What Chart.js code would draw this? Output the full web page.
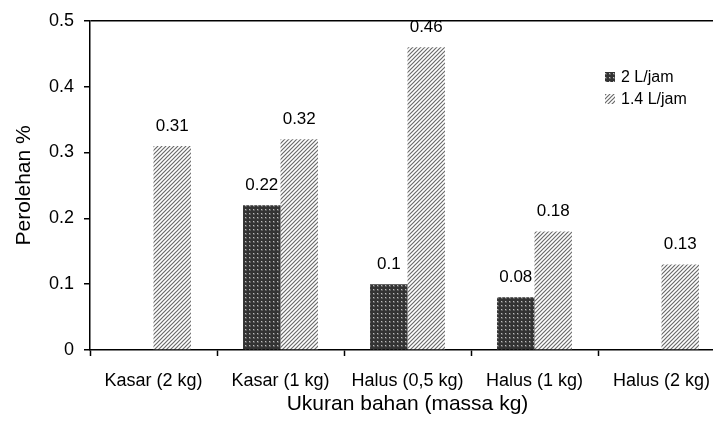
<!DOCTYPE html>
<html>
<head>
<meta charset="utf-8">
<script src="https://cdn.jsdelivr.net/npm/chart.js@4/dist/chart.umd.min.js"></script>
<style>
    html, body { margin: 0; padding: 0; overflow: hidden; background: #fff; }
    #wrap { width: 713px; height: 427px; overflow: hidden; }
</style>
</head>
<body>
<div id="wrap"><canvas id="chart-perolehan" width="735" height="427"></canvas></div>
<script>
const categories = ['Kasar (2 kg)', 'Kasar (1 kg)', 'Halus (0,5 kg)', 'Halus (1 kg)', 'Halus (2 kg)'];
const seriesNames = ['2 L/jam', '1.4 L/jam'];
const values2L = [null, 0.22, 0.10, 0.08, null];
const values14L = [0.31, 0.32, 0.46, 0.18, 0.13];
const yTicks = [0, 0.1, 0.2, 0.3, 0.4, 0.5];

// pola titik untuk seri gelap
function dotPattern() {
    const c = document.createElement('canvas');
    c.width = 4; c.height = 4;
    const g = c.getContext('2d');
    g.fillStyle = '#333333';
    g.fillRect(0, 0, 4, 4);
    g.fillStyle = '#5c5c5c';
    g.fillRect(1, 1, 2, 2);
    g.fillStyle = '#bdbdbd';
    g.fillRect(1, 1, 1, 1);
    return g.createPattern(c, 'repeat');
}

// pola garis miring
function hatchPattern() {
    const c = document.createElement('canvas');
    c.width = 4; c.height = 4;
    const g = c.getContext('2d');
    g.fillStyle = '#ffffff';
    g.fillRect(0, 0, 4, 4);
    g.strokeStyle = '#6a6a6a';
    g.lineWidth = 1.2;
    g.beginPath();
    g.moveTo(-1, 5); g.lineTo(5, -1);
    g.moveTo(-1, 1); g.lineTo(1, -1);
    g.moveTo(3, 5); g.lineTo(5, 3);
    g.stroke();
    return g.createPattern(c, 'repeat');
}

const valueLabels = {
    id: 'valueLabels',
    afterDatasetsDraw(chart) {
        const ctx = chart.ctx;
        ctx.save();
        ctx.font = '17px "Liberation Sans", Arial, sans-serif';
        ctx.fillStyle = '#000';
        ctx.textAlign = 'center';
        ctx.textBaseline = 'alphabetic';
        chart.data.datasets.forEach(function (ds, i) {
            chart.getDatasetMeta(i).data.forEach(function (bar, j) {
                const v = ds.data[j];
                if (v === null) return;
                ctx.fillText(String(v), bar.x, bar.y - 15);
            });
        });
        ctx.restore();
    }
};

const boxLegend = {
    id: 'boxLegend',
    afterDraw(chart) {
        const ctx = chart.ctx;
        ctx.save();
        ctx.font = '16px "Liberation Sans", Arial, sans-serif';
        ctx.textBaseline = 'middle';
        chart.data.datasets.forEach(function (ds, i) {
            const y = 77 + i * 22;
            ctx.fillStyle = ds.backgroundColor;
            ctx.fillRect(605, y - 5, 10, 10);
            ctx.fillStyle = '#000';
            ctx.fillText(ds.label, 621, y + 1);
        });
        ctx.restore();
    }
};

Chart.defaults.font.family = '"Liberation Sans", Arial, sans-serif';
Chart.defaults.color = '#000';

new Chart(document.getElementById('chart-perolehan'), {
    type: 'bar',
    data: {
        labels: categories,
        datasets: [
            { label: seriesNames[0], data: values2L, backgroundColor: dotPattern() },
            { label: seriesNames[1], data: values14L, backgroundColor: hatchPattern() }
        ]
    },
    options: {
        responsive: false,
        animation: false,
        categoryPercentage: 0.59,
        barPercentage: 1.0,
        layout: { padding: { left: 0, right: 10, top: 20, bottom: 0 } },
        plugins: {
            legend: { display: false },
            tooltip: { enabled: false }
        },
        scales: {
            x: {
                grid: {
                    offset: true,
                    drawOnChartArea: false,
                    tickLength: 6,
                    tickColor: '#000',
                    tickWidth: 1.5
                },
                border: { color: '#000', width: 1.5 },
                ticks: { font: { size: 18 }, padding: 14, maxRotation: 0, autoSkip: false },
                title: {
                    display: true,
                    text: 'Ukuran bahan (massa kg)',
                    font: { size: 21 },
                    padding: { top: 0, bottom: 10 }
                },
                afterFit: function (scale) { scale.height = 77; }
            },
            y: {
                min: 0,
                max: 0.5,
                afterBuildTicks: function (scale) {
                    scale.ticks = yTicks.map(v => ({ value: v }));
                },
                grid: {
                    color: ctx => (ctx.tick && Math.abs(ctx.tick.value - 0.5) < 1e-9) ? '#000' : 'rgba(0,0,0,0)',
                    lineWidth: 1.5,
                    tickLength: 6,
                    tickColor: '#000',
                    tickWidth: 1.5
                },
                border: { color: '#000', width: 1.5 },
                ticks: { font: { size: 18 }, padding: 10 },
                title: {
                    display: true,
                    text: 'Perolehan %',
                    font: { size: 21 },
                    padding: { top: 12, bottom: 0 }
                },
                afterFit: function (scale) { scale.width = 90; }
            }
        }
    },
    plugins: [valueLabels, boxLegend]
});
</script>
</body>
</html>
